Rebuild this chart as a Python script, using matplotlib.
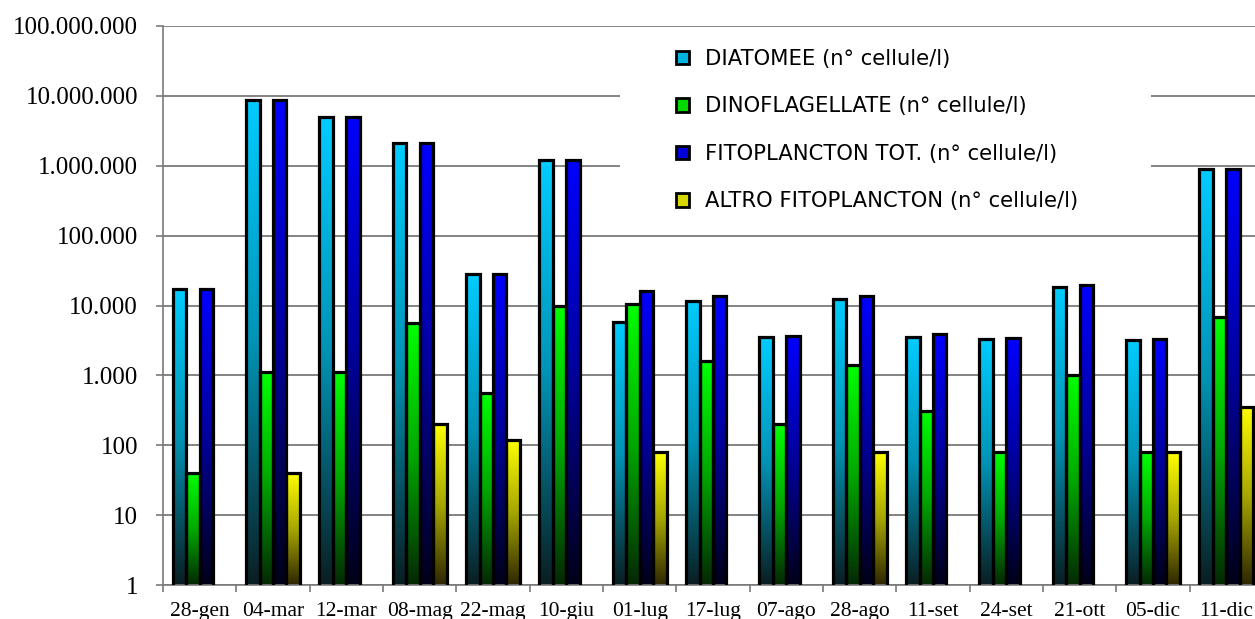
import numpy as np
import matplotlib
matplotlib.use("Agg")
import matplotlib.pyplot as plt
from matplotlib.colors import LinearSegmentedColormap
from matplotlib.patches import Rectangle
from matplotlib.ticker import FixedLocator, NullFormatter, FixedFormatter

# ---------------- data ----------------
categories = ["28-gen", "04-mar", "12-mar", "08-mag", "22-mag", "10-giu", "01-lug",
              "17-lug", "07-ago", "28-ago", "11-set", "24-set", "21-ott", "05-dic", "11-dic"]

diatomee = [17000, 8700000, 5000000, 2100000, 28000, 1200000, 5900,
            11700, 3500, 12200, 3500, 3300, 18500, 3200, 900000]
dinoflagellate = [40, 1100, 1100, 5600, 560, 10000, 10500,
                  1620, 200, 1400, 310, 80, 1000, 80, 6900]
fitoplancton_tot = [17000, 8700000, 5000000, 2100000, 28500, 1200000, 16300,
                    13600, 3700, 13900, 3860, 3400, 19800, 3300, 900000]
altro_fitoplancton = [0, 40, 0, 200, 120, 0, 80,
                      0, 0, 80, 0, 0, 0, 80, 355]

series_names = ["DIATOMEE (n° cellule/l)", "DINOFLAGELLATE (n° cellule/l)",
                "FITOPLANCTON TOT. (n° cellule/l)", "ALTRO FITOPLANCTON (n° cellule/l)"]

ytick_values = [1, 10, 100, 1000, 10000, 100000, 1000000, 10000000, 100000000]
ytick_labels = ["1", "10", "100", "1.000", "10.000", "100.000", "1.000.000",
                "10.000.000", "100.000.000"]

# ---------------- style ----------------
grad_stops = [
    ["#0a1e22", "#0093b5", "#00CCFF"],
    ["#052805", "#00a800", "#00FF00"],
    ["#000018", "#00009c", "#0000FF"],
    ["#2e2600", "#a6a600", "#FFFF00"],
]
legend_colors = ["#00b4e0", "#00d800", "#0000d8", "#d8d800"]

W, H = 1255, 619
fig = plt.figure(figsize=(W / 100, H / 100), dpi=100)
fig.patch.set_facecolor("white")

left_px, right_px, top_px, bot_px = 163, 1263, 26, 585
ax = fig.add_axes([left_px / W, 1 - bot_px / H, (right_px - left_px) / W, (bot_px - top_px) / H])
ax.set_yscale("log")
n = len(categories)
x = np.arange(n)
ax.set_xlim(-0.5, n - 0.5)
ax.set_ylim(ytick_values[0], ytick_values[-1])
ax.set_autoscale_on(False)

# grid
ax.yaxis.set_major_locator(FixedLocator(ytick_values))
ax.yaxis.set_major_formatter(FixedFormatter(ytick_labels))
ax.yaxis.set_minor_locator(FixedLocator([]))
ax.grid(axis="y", which="major", color="#6e6e6e", linewidth=1.2, zorder=0)
ax.set_axisbelow(True)

for s in ["top", "right"]:
    ax.spines[s].set_visible(False)
for s in ["left", "bottom"]:
    ax.spines[s].set_color("#7a7a7a")
    ax.spines[s].set_linewidth(1.2)

ax.tick_params(axis="y", which="major", length=5, width=1.2, color="#7a7a7a", pad=13,
               labelsize=18)
for lbl in ax.get_yticklabels():
    lbl.set_fontfamily("Liberation Serif")

# x ticks: marks at boundaries, labels at centres
ax.xaxis.set_major_locator(FixedLocator(np.arange(-0.5, n, 1.0)))
ax.xaxis.set_major_formatter(NullFormatter())
ax.xaxis.set_minor_locator(FixedLocator(x))
ax.xaxis.set_minor_formatter(FixedFormatter(categories))
ax.tick_params(axis="x", which="major", length=5, width=1.2, color="#7a7a7a")
ax.tick_params(axis="x", which="minor", length=0, pad=12.5, labelsize=15.5)
for lbl in ax.get_xticklabels(minor=True):
    lbl.set_fontfamily("Liberation Serif")

# white legend background box (hides gridlines behind it)
bg = Rectangle((620 / W, 1 - 231 / H), (1151 - 620) / W, (231 - 30) / H,
               transform=fig.transFigure, facecolor="white", edgecolor="none", zorder=1.5)
ax.add_artist(bg)

# bars with gradient
bw = 0.184
offsets = [-1.5 * bw, -0.5 * bw, 0.5 * bw, 1.5 * bw]
all_series = [diatomee, dinoflagellate, fitoplancton_tot, altro_fitoplancton]
grad = np.linspace(0, 1, 256).reshape(-1, 1)
inv = ax.transAxes.inverted()

for si, (vals, off) in enumerate(zip(all_series, offsets)):
    cmap = LinearSegmentedColormap.from_list(f"g{si}", list(zip([0, 0.5, 1], grad_stops[si])))
    vals = np.array(vals, dtype=float)
    mask = vals > 0
    bars = ax.bar(x[mask] + off, vals[mask], width=bw, facecolor="none",
                  edgecolor="black", linewidth=2.3, zorder=3)
    for rect in bars:
        x0 = rect.get_x()
        x1 = x0 + rect.get_width()
        top = rect.get_y() + rect.get_height()
        (ax0, ay1) = inv.transform(ax.transData.transform((x0, top)))
        (ax1_, _) = inv.transform(ax.transData.transform((x1, top)))
        ax.imshow(grad, extent=[ax0, ax1_, 0, ay1], transform=ax.transAxes,
                  origin="lower", aspect="auto", cmap=cmap, vmin=0, vmax=1,
                  interpolation="bilinear", zorder=2)

ax.set_xlim(-0.5, n - 0.5)
ax.set_ylim(ytick_values[0], ytick_values[-1])

# legend
handles = [Rectangle((0, 0), 1, 1, facecolor=c, edgecolor="black", linewidth=2.0)
           for c in legend_colors]
leg = fig.legend(handles, series_names, loc="upper left",
                 bbox_to_anchor=(676 / W, 1 - 49 / H), bbox_transform=fig.transFigure,
                 frameon=False, handlelength=0.62, handleheight=0.62, handletextpad=0.75,
                 labelspacing=1.30, borderpad=0, borderaxespad=0,
                 prop={"family": "DejaVu Sans", "size": 15.2})

fig.savefig("out.png", dpi=100)
